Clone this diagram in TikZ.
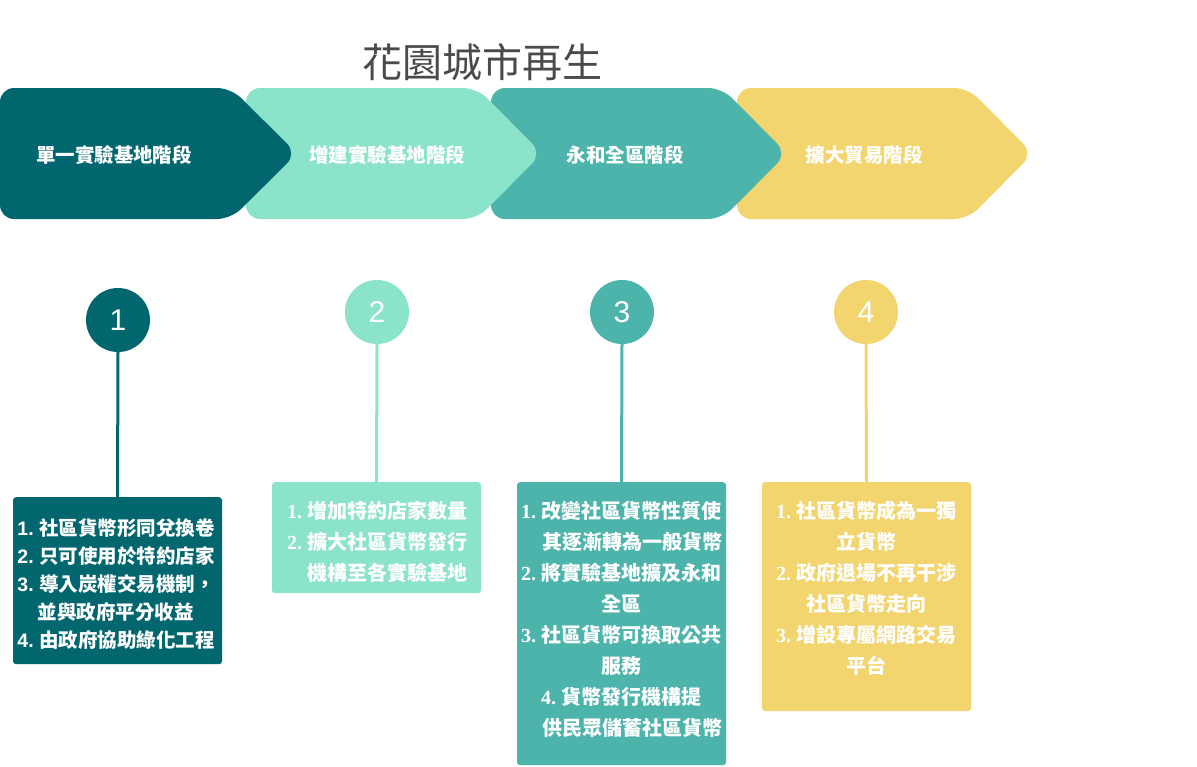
\documentclass[tikz,border=0pt]{standalone}
\usepackage{fontspec}
\newfontfamily\cjk{Noto Sans CJK TC}
\newfontfamily\arialf{Liberation Sans}
\newfontfamily\timesf{Liberation Serif}
\definecolor{cdark}{HTML}{02666E}
\definecolor{cmint}{HTML}{8BE3CA}
\definecolor{cteal}{HTML}{4DB4AC}
\definecolor{cyel}{HTML}{F2D56F}
\definecolor{ctitle}{HTML}{4A4A4A}
\newcommand{\an}[1]{{\arialf\bfseries #1\ }}
\newcommand{\tn}[1]{{\timesf\bfseries #1\ }}
\tikzset{
  chev/.style={rounded corners=14pt},
  chevlabel/.style={text=white, font={\cjk\bfseries\fontsize{19.5}{22}\selectfont}, inner sep=0pt},
  numcirc/.style={circle, inner sep=0pt, minimum size=64pt, text=white, font={\arialf\fontsize{30}{30}\selectfont}},
  panel/.style={rounded corners=3pt, inner sep=0pt, minimum width=209pt, anchor=north},
  paneltext/.style={text=white, align=center, inner sep=0pt, anchor=north},
  stem/.style={line width=3pt},
}
\begin{document}
\begin{tikzpicture}[x=1pt, y=-1pt]
\useasboundingbox (0,0) rectangle (1197,766);
% title
\node[text=ctitle, font={\cjk\fontsize{40}{44}\selectfont}, inner sep=0pt] (title) at (482,62) {花園城市再生};
% chevrons (drawn right to left so that each overlaps the next)
\fill[cyel, chev] (737,88) -- (968,88) -- (1033,153.5) -- (968,219) -- (737,219) -- cycle;
\fill[cteal, chev] (491,88) -- (722,88) -- (787,153.5) -- (722,219) -- (491,219) -- cycle;
\fill[cmint, chev] (246,88) -- (477,88) -- (542,153.5) -- (477,219) -- (246,219) -- cycle;
\fill[cdark, chev] (0,88) -- (231,88) -- (297,153.5) -- (231,219) -- (0,219) -- cycle;
\node[chevlabel] (h1) at (114,155) {單一實驗基地階段};
\node[chevlabel] (h2) at (387,155) {增建實驗基地階段};
\node[chevlabel] (h3) at (625,155) {永和全區階段};
\node[chevlabel] (h4) at (864,155) {擴大貿易階段};
% circles
\node[numcirc, fill=cdark] (c1) at (118,320) {1};
\node[numcirc, fill=cmint] (c2) at (377,312) {2};
\node[numcirc, fill=cteal] (c3) at (622,312) {3};
\node[numcirc, fill=cyel] (c4) at (866,312) {4};
% panels
\node[panel, fill=cdark, minimum height=167pt] (b1) at (117.5,497) {};
\node[panel, fill=cmint, minimum height=111pt] (b2) at (376.5,482) {};
\node[panel, fill=cteal, minimum height=283pt] (b3) at (621.5,482) {};
\node[panel, fill=cyel, minimum height=229pt] (b4) at (866.5,482) {};
% stems
\draw[stem, cdark] (c1.south) -- (b1.north);
\draw[stem, cmint] (c2.south) -- (b2.north);
\draw[stem, cteal] (c3.south) -- (b3.north);
\draw[stem, cyel] (c4.south) -- (b4.north);
% panel texts
\node[paneltext, font={\cjk\bfseries\fontsize{19.5}{28}\selectfont}] (t1) at (116,518) {%
\an{1.}社區貨幣形同兌換卷\\
\an{2.}只可使用於特約店家\\
\an{3.}導入炭權交易機制，\\
並與政府平分收益\\
\an{4.}由政府協助綠化工程};
\node[paneltext, font={\cjk\bfseries\fontsize{20}{31}\selectfont}] (t2) at (377,501) {%
\tn{1.}增加特約店家數量\\
\tn{2.}擴大社區貨幣發行\\
\hspace*{20pt}機構至各實驗基地};
\node[paneltext, font={\cjk\bfseries\fontsize{20}{31}\selectfont}] (t3) at (621,501) {%
\tn{1.}改變社區貨幣性質使\\
\hspace*{22pt}其逐漸轉為一般貨幣\\
\tn{2.}將實驗基地擴及永和\\
全區\\
\tn{3.}社區貨幣可換取公共\\
服務\\
\tn{4.}貨幣發行機構提\\
\hspace*{22pt}供民眾儲蓄社區貨幣};
\node[paneltext, font={\cjk\bfseries\fontsize{20}{31}\selectfont}] (t4) at (866,501) {%
\tn{1.}社區貨幣成為一獨\\
立貨幣\\
\tn{2.}政府退場不再干涉\\
社區貨幣走向\\
\tn{3.}增設專屬網路交易\\
平台};
\end{tikzpicture}
\end{document}
